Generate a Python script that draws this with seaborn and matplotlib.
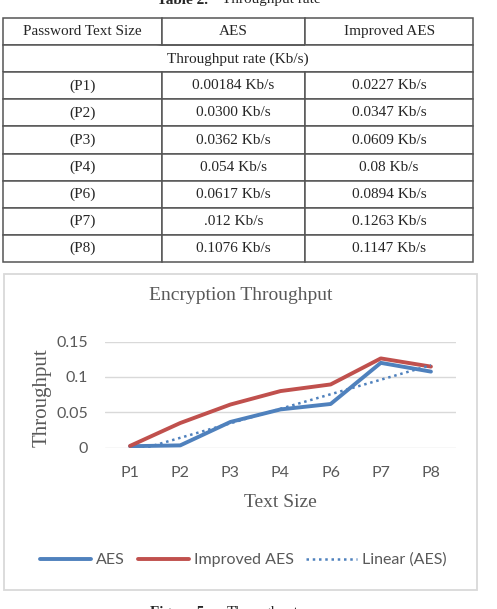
import matplotlib.pyplot as plt
import numpy as np
import pandas as pd
import seaborn as sns

# table values (as printed)
sizes = ["(P1)", "(P2)", "(P3)", "(P4)", "(P6)", "(P7)", "(P8)"]
aes_txt = ["0.00184 Kb/s", "0.0300 Kb/s", "0.0362 Kb/s", "0.054 Kb/s",
           "0.0617 Kb/s", ".012 Kb/s", "0.1076 Kb/s"]
imp_txt = ["0.0227 Kb/s", "0.0347 Kb/s", "0.0609 Kb/s", "0.08 Kb/s",
           "0.0894 Kb/s", "0.1263 Kb/s", "0.1147 Kb/s"]
col_labels = ["Password Text Size", "AES", "Improved AES"]

# chart values
cats = ["P1", "P2", "P3", "P4", "P6", "P7", "P8"]
aes = [0.00184, 0.0030, 0.0362, 0.054, 0.0617, 0.12, 0.1076]
improved = [0.00227, 0.0347, 0.0609, 0.08, 0.0894, 0.1263, 0.1147]

W, H = 497, 609
SERIF = "Liberation Serif"
SANS = "Lato"
GRAY = "#595959"
BLUE = "#4F81BD"
RED = "#C0504D"

sns.set_style("white")
plt.rcParams["font.family"] = [SERIF, "DejaVu Serif"]

fig = plt.figure(figsize=(W / 100, H / 100), dpi=100)


def fx(px):
    return px / W


def fy(py):
    return 1 - py / H


# ---- table ----
fig.text(fx(157), fy(3.5), "Table 2.", fontsize=11, fontweight="bold", va="baseline")
fig.text(fx(222), fy(3.5), "Throughput rate", fontsize=11, va="baseline")

ax_t = fig.add_axes([fx(3.3), fy(261.7), fx(470), 243.4 / H])
ax_t.axis("off")
cell_rows = [col_labels, ["", "", ""]] + [list(r) for r in zip(sizes, aes_txt, imp_txt)]
table = ax_t.table(cellText=cell_rows, colWidths=[158.4, 143.3, 168.3],
                   cellLoc="center", bbox=[0, 0, 1, 1])
table.auto_set_font_size(False)
table.set_fontsize(11)
for (r, c), cell in table.get_celld().items():
    cell.set_edgecolor("#555555")
    cell.set_linewidth(1.1)
    cell.get_text().set_fontfamily(SERIF)
    if r == 1:
        cell.visible_edges = {0: "BTL", 1: "BT", 2: "BTR"}[c]
ax_t.text(0.5, 1 - 1.5 / 9, "Throughput rate (Kb/s)", ha="center", va="center",
          fontsize=11, family=SERIF, transform=ax_t.transAxes)

# ---- chart frame ----
frame = plt.Rectangle((fx(4), fy(590)), fx(473), (590 - 274) / H,
                      transform=fig.transFigure, fill=False,
                      edgecolor="#D9D9D9", linewidth=1.3)
fig.patches.append(frame)

ax = fig.add_axes([fx(105), fy(447.5), fx(351), 105.8 / H])
df = pd.DataFrame({
    "size": cats * 2,
    "value": aes + improved,
    "series": ["AES"] * len(cats) + ["Improved AES"] * len(cats),
})
sns.lineplot(data=df, x="size", y="value", hue="series", sort=False,
             palette={"AES": BLUE, "Improved AES": RED}, linewidth=2.8,
             ax=ax, legend=False)
sns.regplot(x=np.arange(len(cats)), y=np.array(aes), scatter=False, ci=None,
            truncate=True, ax=ax,
            line_kws={"color": BLUE, "linewidth": 1.8, "linestyle": (0, (1, 1.5))})

ax.set_xlim(-0.5, len(cats) - 0.5)
ax.set_ylim(0, 0.15)
ax.set_xticks(range(len(cats)))
ax.set_xticklabels(cats)
ax.set_yticks([0, 0.05, 0.1, 0.15])
ax.set_yticklabels(["0", "0.05", "0.1", "0.15"])
ax.tick_params(length=0, labelsize=11.5, labelcolor=GRAY)
ax.tick_params(axis="y", pad=12)
ax.tick_params(axis="x", pad=13)
for lab in ax.get_xticklabels() + ax.get_yticklabels():
    lab.set_fontfamily(SANS)
for s in ax.spines.values():
    s.set_visible(False)
ax.yaxis.grid(True, color="#D9D9D9", linewidth=1.0)
ax.xaxis.grid(False)
ax.set_axisbelow(True)

ax.set_title("Encryption Throughput", fontsize=14, color=GRAY,
             x=0.387, y=1.356, va="center")
ax.set_ylabel("Throughput", fontsize=15, color=GRAY)
ax.yaxis.set_label_coords(-0.180, 0.47)
ax.yaxis.label.set_va("center")
ax.set_xlabel("Text Size", fontsize=14, color=GRAY)
ax.xaxis.set_label_coords(0.5, -0.522)
ax.xaxis.label.set_va("center")

handles = [
    plt.Line2D([], [], color=BLUE, linewidth=2.8),
    plt.Line2D([], [], color=RED, linewidth=2.8),
    plt.Line2D([], [], color=BLUE, linewidth=1.8, linestyle=(0, (1, 1.5))),
]
fig.legend(handles, ["AES", "Improved AES", "Linear (AES)"], loc="center",
           bbox_to_anchor=(fx(243.5), fy(560)), ncol=3, frameon=False,
           handlelength=3.2, handletextpad=0.3, columnspacing=0.8,
           prop={"family": SANS, "size": 11.5}, labelcolor=GRAY)

# ---- figure caption (cut at bottom edge) ----
fig.text(fx(150), fy(606), "Figure 5.", fontsize=11, fontweight="bold", va="top")
fig.text(fx(227), fy(606), "Throughput", fontsize=11, va="top")

fig.savefig("out.png", dpi=100)
